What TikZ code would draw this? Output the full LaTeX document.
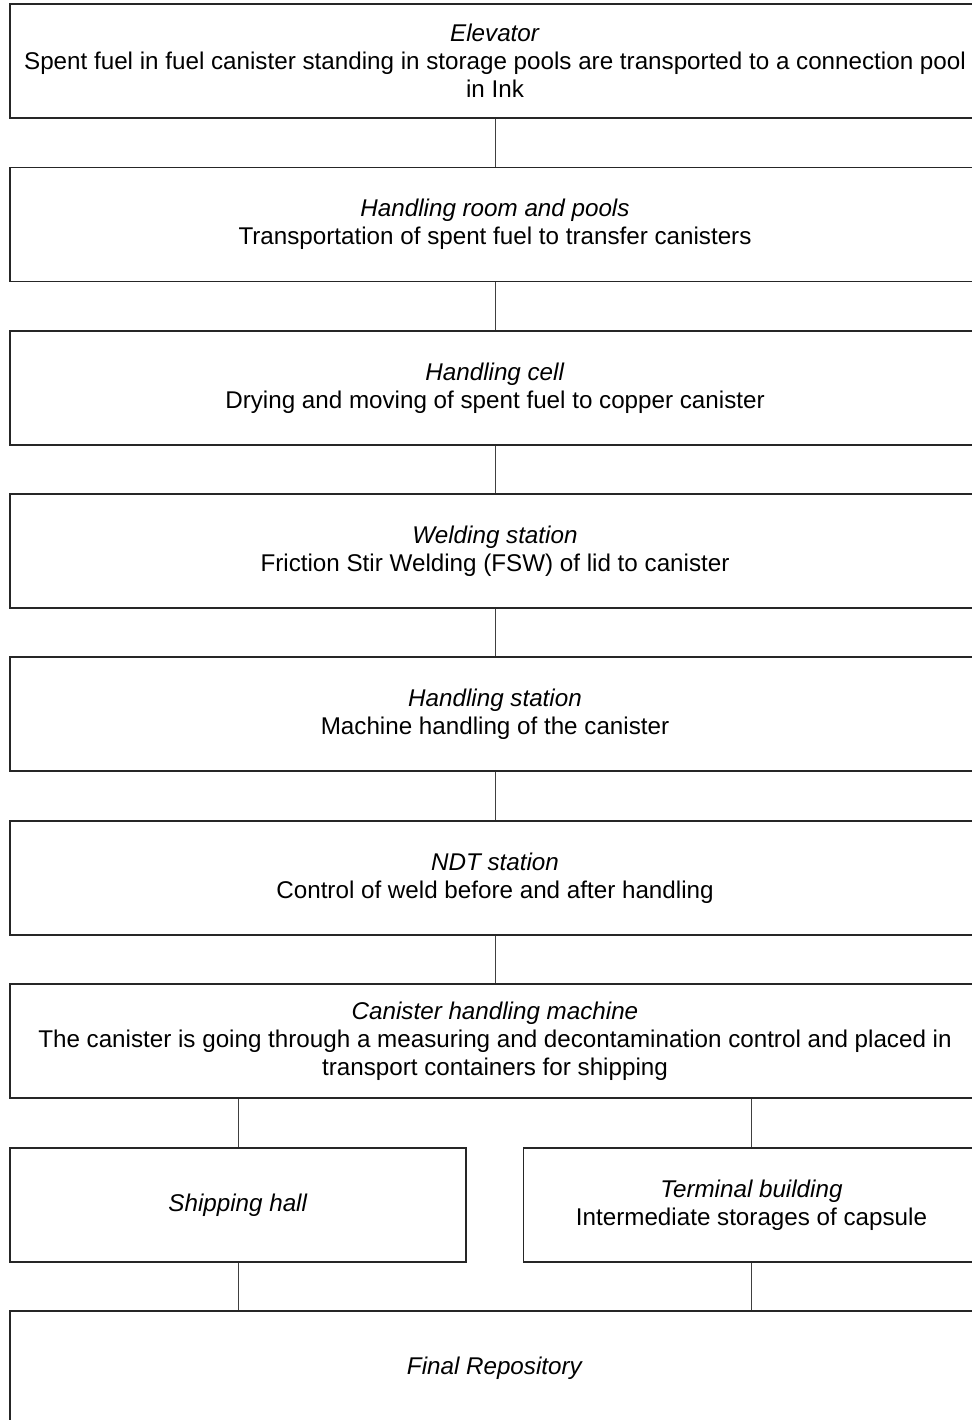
\documentclass[tikz,border=0pt]{standalone}
\usepackage{fontspec}
\setmainfont{Liberation Sans}
\begin{document}
\begin{tikzpicture}[x=0.5pt,y=-0.5pt,
  box/.style={draw=black!85, line width=0.65pt, rectangle, align=center, inner sep=0pt,
    minimum height=57pt, font=\fontsize{12.1}{14}\selectfont},
  wide/.style={box, minimum width=485pt},
  half/.style={box, minimum width=228pt},
  link/.style={draw=black!75, line width=0.5pt}]
\clip (0,0) rectangle (972,1420);
\useasboundingbox (0,0) rectangle (972,1420);
\node[wide] (b1) at (495,61) {\textit{Elevator}\\Spent fuel in fuel canister standing in storage pools are transported to a connection pool\\in Ink};
\node[wide] (b2) at (495,224.5) {\textit{Handling room and pools}\\Transportation of spent fuel to transfer canisters};
\node[wide] (b3) at (495,388) {\textit{Handling cell}\\Drying and moving of spent fuel to copper canister};
\node[wide] (b4) at (495,551) {\textit{Welding station}\\Friction Stir Welding (FSW) of lid to canister};
\node[wide] (b5) at (495,714) {\textit{Handling station}\\Machine handling of the canister};
\node[wide] (b6) at (495,878) {\textit{NDT station}\\Control of weld before and after handling};
\node[wide] (b7) at (495,1041) {\textit{Canister handling machine}\\The canister is going through a measuring and decontamination control and placed in\\transport containers for shipping};
\node[half] (ship) at (238,1205) {\textit{Shipping hall}};
\node[half] (term) at (751.5,1205) {\textit{Terminal building}\\Intermediate storages of capsule};
\node[wide] (fin) at (495,1368) {\textit{Final Repository}};
\draw[link] (b1) -- (b2);
\draw[link] (b2) -- (b3);
\draw[link] (b3) -- (b4);
\draw[link] (b4) -- (b5);
\draw[link] (b5) -- (b6);
\draw[link] (b6) -- (b7);
\draw[link] (ship.north) -- (ship.north |- b7.south);
\draw[link] (term.north) -- (term.north |- b7.south);
\draw[link] (ship.south) -- (ship.south |- fin.north);
\draw[link] (term.south) -- (term.south |- fin.north);
\end{tikzpicture}
\end{document}
